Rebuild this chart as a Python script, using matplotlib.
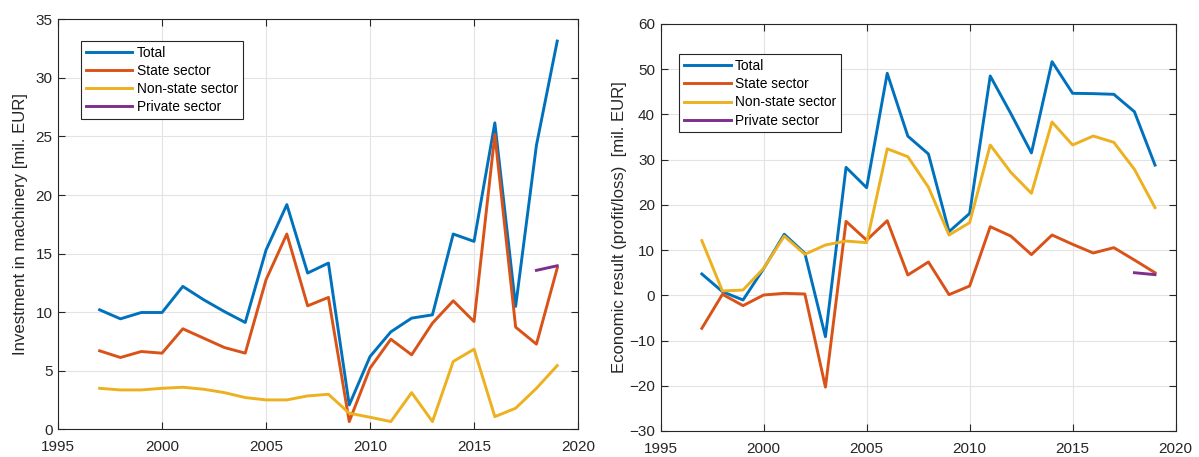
import numpy as np
import matplotlib
matplotlib.use("Agg")
import matplotlib.pyplot as plt

plt.rcParams['font.family'] = ['Liberation Sans', 'DejaVu Sans']

years = list(range(1997, 2020))
private_years = [2018, 2019]

# Left: investment in machinery [mil. EUR]
inv_total = [10.2, 9.43, 9.97, 9.97, 12.2, 11.06, 10.05, 9.12, 15.3, 19.18, 13.34, 14.19,
             2.08, 6.21, 8.32, 9.49, 9.77, 16.67, 16.04, 26.16, 10.49, 24.25, 33.14]
inv_state = [6.70, 6.13, 6.64, 6.5, 8.58, 7.78, 6.98, 6.5, 12.77, 16.67, 10.54, 11.26,
             0.66, 5.22, 7.69, 6.36, 9.06, 10.97, 9.2, 25.16, 8.72, 7.27, 13.76]
inv_nonstate = [3.5, 3.36, 3.36, 3.5, 3.59, 3.42, 3.13, 2.71, 2.51, 2.51, 2.85, 2.99,
                1.37, 1.03, 0.66, 3.13, 0.66, 5.79, 6.84, 1.08, 1.8, 3.5, 5.44]
inv_private = [13.57, 13.96]

# Right: economic result [mil. EUR]
eco_total = [4.72, 0.81, -1.03, 5.9, 13.5, 9.3, -9.14, 28.3, 23.8, 49.1, 35.2, 31.25,
             14.08, 18.1, 48.5, 40.2, 31.5, 51.67, 44.67, 44.6, 44.45, 40.6, 28.8]
eco_state = [-7.3, 0.22, -2.28, 0.07, 0.44, 0.3, -20.3, 16.36, 12.2, 16.5, 4.5, 7.37,
             0.15, 2.06, 15.18, 13.1, 9.0, 13.34, 11.28, 9.36, 10.54, 7.81, 5.0]
eco_nonstate = [12.1, 0.96, 1.18, 5.97, 13.1, 9.07, 11.13, 12.0, 11.65, 32.4, 30.66, 23.9,
                13.34, 16.07, 33.24, 27.2, 22.55, 38.33, 33.24, 35.23, 33.83, 27.86, 19.39]
eco_private = [5.0, 4.57]

labels = ["Total", "State sector", "Non-state sector", "Private sector"]
colors = ["#0072BD", "#D95319", "#EDB120", "#7E2F8E"]


def style_axes(ax, ylim, yticks, ylabel, label_x):
    ax.set_xlim(1995, 2020)
    ax.set_xticks(range(1995, 2021, 5))
    ax.set_ylim(*ylim)
    ax.set_yticks(yticks)
    ax.set_ylabel(ylabel, fontsize=12.1, color="#262626")
    ax.yaxis.set_label_coords(label_x, 0.5)
    ax.grid(True, color="#e3e3e3", linewidth=0.8)
    ax.set_axisbelow(True)
    ax.tick_params(direction="in", top=True, right=True, labelsize=11,
                   colors="#262626", length=5, width=0.8)
    ax.tick_params(axis="x", pad=8)
    ax.tick_params(axis="y", pad=4)
    for s in ax.spines.values():
        s.set_color("#262626")
        s.set_linewidth(0.8)


fig = plt.figure(figsize=(11.99, 4.57), dpi=100)
ax1 = fig.add_axes([0.0484, 0.0606, 0.4337, 0.8972])
ax2 = fig.add_axes([0.5510, 0.0569, 0.4295, 0.8906])

for ax, series, priv in [(ax1, [inv_total, inv_state, inv_nonstate], inv_private),
                         (ax2, [eco_total, eco_state, eco_nonstate], eco_private)]:
    for s, c, lab in zip(series, colors, labels):
        ax.plot(years, s, color=c, linewidth=2.1, label=lab)
    ax.plot(private_years, priv, color=colors[3], linewidth=2.1, label=labels[3])

style_axes(ax1, (0, 35), range(0, 36, 5), "Investment in machinery [mil. EUR]", -0.058)
style_axes(ax2, (-30, 60), range(-30, 61, 10), "Economic result (profit/loss)  [mil. EUR]", -0.065)

for ax, anchor in [(ax1, (0.0437, 0.9478)), (ax2, (0.0361, 0.9255))]:
    leg = ax.legend(loc="upper left", bbox_to_anchor=anchor, fontsize=9.9,
                    handlelength=3.4, handletextpad=0.32, borderpad=0.35,
                    labelspacing=0.3, fancybox=False, framealpha=1,
                    borderaxespad=0)
    leg.get_frame().set_edgecolor("#262626")
    leg.get_frame().set_linewidth(0.8)

fig.savefig("out.png", dpi=100)
